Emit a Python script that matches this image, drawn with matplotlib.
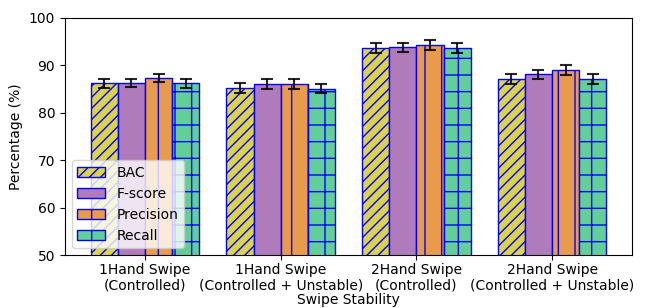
import numpy as np
import matplotlib.pyplot as plt

# datos
grupos = ['1Hand Swipe\n(Controlled)', '1Hand Swipe\n(Controlled + Unstable)',
          '2Hand Swipe\n(Controlled)', '2Hand Swipe\n(Controlled + Unstable)']
bac = [86.2, 85.2, 93.6, 87.1]
fscore = [86.3, 86.1, 93.8, 88.1]
precision = [87.3, 86.1, 94.3, 89.0]
recall = [86.2, 85.1, 93.6, 87.1]
err_bac = [0.9, 1.0, 1.0, 1.0]
err_fscore = [0.9, 1.0, 1.0, 1.0]
err_precision = [0.9, 1.0, 1.0, 1.0]
err_recall = [0.9, 1.0, 1.0, 1.0]

nombres = ['BAC', 'F-score', 'Precision', 'Recall']
colores = ['#dbd34c', '#b07bba', '#e89b4b', '#62cf9b']
tramas = ['///', '', '|', '+']

fig, ax = plt.subplots(figsize=(6.49, 3.08), dpi=100)
fig.subplots_adjust(left=0.100, right=0.974, top=0.942, bottom=0.172)

x = np.arange(len(grupos))
ancho = 0.2
series = [bac, fscore, precision, recall]
errores = [err_bac, err_fscore, err_precision, err_recall]
for i in range(4):
    ax.bar(x + (i - 1.5) * ancho, series[i], ancho, yerr=errores[i],
           color=colores[i], edgecolor='blue', linewidth=1, hatch=tramas[i],
           label=nombres[i], capsize=4,
           error_kw=dict(ecolor='black', elinewidth=1.5, capthick=1.5, alpha=0.85))

ax.set_ylim(50, 100)
ax.set_xticks(x)
ax.set_xticklabels(grupos, fontsize=10)
ax.tick_params(axis='x', pad=2)
ax.tick_params(axis='y', labelsize=10)
ax.set_xlabel('Swipe Stability', fontsize=10, labelpad=0)
ax.set_ylabel('Percentage (%)', fontsize=10)
ax.legend(loc='lower left', fontsize=10)

plt.savefig('out.png', dpi=100)
